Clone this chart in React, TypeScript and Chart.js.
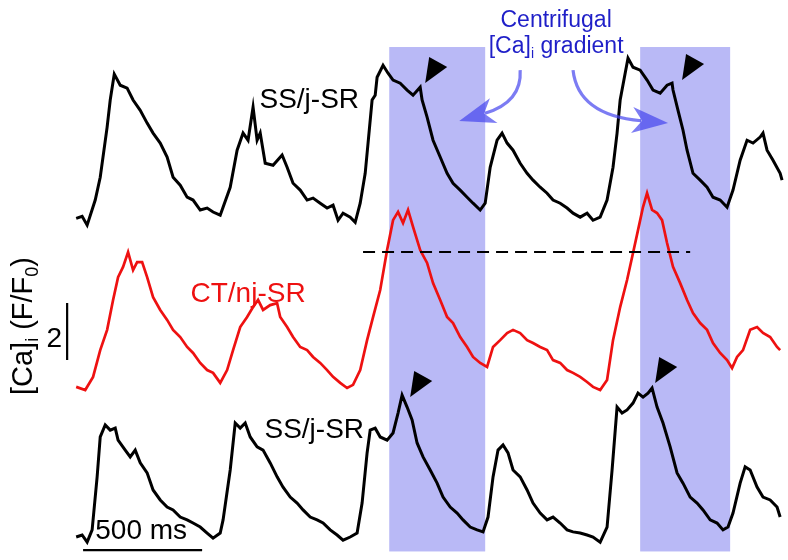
import React, { useEffect, useRef } from "react";
import { Chart, registerables } from "chart.js";

Chart.register(...registerables);

// ---- time (ms) and [Ca]i (F/F0) values ----
const TOP_T = [0,25,46,80,101,130,143,160,185,214,239,269,298,323,353,382,407,437,466,491,521,550,575,605,617,647,676,701,722,743,760,773,794,827,865,886,911,941,970,995,1025,1054,1079,1100,1121,1151,1172,1193,1214,1226,1243,1256,1264,1289,1310,1331,1361,1390,1415,1445,1453,1474,1499,1529,1558,1583,1613,1642,1667,1697,1718,1739,1768,1789,1810,1835,1865,1894,1919,1949,1978,2003,2033,2062,2087,2117,2146,2171,2201,2230,2255,2272,2285,2306,2318,2339,2369,2398,2423,2453,2482,2503,2507,2528,2549,2566,2591,2621,2650,2675,2705,2734,2759,2789,2818,2843,2873,2885,2902,2927,2957,2965];
const TOP_V = [0.89,0.96,0.65,1.53,2.33,4.09,5.04,5.95,5.56,5.46,5.04,4.68,4.23,3.88,3.53,3.04,2.33,2.05,1.63,1.53,1.18,1.25,1.11,1.0,1.28,1.98,3.28,3.88,3.63,4.79,3.63,3.88,2.82,2.75,3.11,2.68,2.12,1.88,1.53,1.6,1.42,1.25,1.35,0.82,1.07,0.93,0.75,1.42,2.47,3.53,5.04,5.21,5.84,6.26,5.98,5.74,5.63,5.39,5.21,5.49,5.04,4.44,3.63,3.04,2.47,2.12,1.88,1.63,1.42,1.18,1.42,2.68,3.63,3.88,3.53,3.28,2.82,2.47,2.23,1.98,1.77,1.53,1.42,1.25,1.07,0.93,1.07,0.82,0.93,1.53,2.68,3.88,5.04,5.98,6.51,6.19,6.09,5.74,5.39,5.28,5.56,5.63,5.39,4.68,3.98,3.28,2.47,2.23,1.98,1.63,1.53,1.28,1.88,2.93,3.63,3.53,3.74,3.88,3.28,2.93,2.47,2.23];

const RED_T = [0,38,71,101,130,155,176,197,218,239,256,277,298,323,353,382,407,437,466,491,521,550,575,605,634,659,689,718,743,764,785,815,844,857,886,911,941,970,995,1025,1054,1079,1109,1138,1163,1193,1222,1247,1277,1306,1331,1352,1373,1394,1415,1445,1474,1499,1529,1558,1583,1613,1642,1667,1697,1726,1751,1781,1810,1835,1865,1894,1919,1949,1978,2003,2033,2062,2087,2117,2146,2171,2201,2230,2255,2285,2314,2339,2360,2381,2398,2419,2440,2461,2482,2507,2537,2566,2591,2621,2650,2675,2705,2734,2755,2776,2801,2831,2860,2885,2915,2944,2957];
const RED_V = [1.04,0.93,1.39,2.33,3.04,4.09,4.89,5.25,5.77,5.14,5.42,5.42,4.89,4.19,3.74,3.39,3.04,2.79,2.44,2.23,1.88,1.63,1.53,1.18,1.63,2.33,3.14,3.49,3.84,4.09,3.74,3.91,3.98,3.49,3.14,2.79,2.44,2.33,2.09,1.88,1.63,1.39,1.18,1.0,1.11,1.63,2.68,3.49,4.44,5.84,6.89,7.18,6.79,7.25,6.65,5.84,5.39,4.68,4.09,3.49,3.28,2.79,2.44,2.09,1.88,1.74,2.44,2.68,2.93,3.04,2.93,2.68,2.58,2.44,2.33,1.98,1.88,1.63,1.53,1.39,1.21,1.04,0.93,1.28,2.68,3.84,4.79,5.74,6.54,7.35,7.84,7.25,7.14,6.89,6.09,5.25,4.68,4.09,3.63,3.28,3.04,2.58,2.23,1.98,1.7,2.09,2.33,3.04,3.14,2.93,2.79,2.44,2.33];

const BOT_T = [0,25,46,67,88,101,122,143,164,176,206,227,248,269,298,323,353,382,407,437,466,491,521,550,575,605,617,647,668,689,710,731,760,785,815,844,869,899,928,953,983,1012,1037,1067,1096,1121,1151,1180,1201,1222,1235,1256,1277,1306,1331,1352,1369,1390,1411,1432,1457,1487,1516,1541,1571,1600,1625,1655,1684,1709,1730,1751,1772,1793,1814,1835,1865,1894,1919,1949,1978,2003,2033,2062,2087,2117,2146,2171,2201,2230,2251,2272,2293,2314,2339,2360,2381,2402,2419,2440,2465,2495,2524,2549,2579,2608,2633,2663,2692,2717,2738,2759,2789,2810,2831,2860,2885,2915,2944,2957];
const BOT_V = [1.0,1.07,0.82,1.25,3.11,4.51,4.93,4.75,4.82,4.4,4.05,3.81,4.05,3.6,3.25,2.65,2.3,2.05,1.95,1.7,1.6,1.49,1.35,1.14,0.96,1.14,1.6,3.35,5.0,4.82,5.0,4.51,4.16,4.05,3.6,3.11,2.75,2.4,2.19,1.95,1.7,1.6,1.49,1.25,1.07,0.89,1.0,1.14,2.19,3.95,4.75,4.82,4.51,4.4,4.65,5.35,5.98,5.56,5.11,4.3,3.81,3.35,2.89,2.4,2.05,1.84,1.6,1.35,1.25,1.18,1.7,3.11,4.05,4.23,3.95,3.35,3.11,2.65,2.19,1.84,1.6,1.7,1.49,1.25,1.18,1.14,1.07,1.0,0.82,1.35,3.35,5.56,5.35,5.46,5.7,6.05,5.91,6.05,6.23,5.56,5.0,4.16,3.25,2.89,2.4,2.19,1.95,1.6,1.49,1.25,1.35,1.84,2.89,3.46,3.35,2.75,2.4,2.3,2.05,1.7];

// vertical offsets of the three stacked traces (F/F0 units of the shared axis)
const TOP_OFFSET = 12.1;
const RED_OFFSET = 6.035;
const BOT_OFFSET = 0.807;

// annotation values (ms, axis units)
const BOX_1 = [1315, 1718];
const BOX_2 = [2369, 2747];
const BOX_Y = [0.3, 18.0];
const DASH_T = [1205, 2579];
const DASH_LEVEL = 5.77; // F/F0 of the CT/nj-SR trace
const ARROWHEADS = [
  [1466, 16.74],
  [2545, 16.84],
  [1403, 5.72],
  [2432, 6.21],
];
const TIME_BAR = [29, 529, 0.35]; // 500 ms
const CA_BAR = [-38, 7.02, 9.02]; // 2 F/F0
const CURVES = [
  { s: [1865, 17.19], c: [1873, 16.07], e: [1609, 15.4] },
  { s: [2087, 17.19], c: [2108, 15.61], e: [2486, 15.33] },
];

const X_MIN = -320;
const X_MAX = 2990;
const Y_MIN = 0;
const Y_MAX = 19.65;

const FONT = "'Liberation Sans', Arial, sans-serif";

function shifted(ts: number[], vs: number[], off: number) {
  return ts.map((t, i) => ({ x: t, y: vs[i] - 1 + off }));
}

type Part = { t: string; sub?: boolean };

function richWidth(ctx: CanvasRenderingContext2D, parts: Part[], size: number, subSize: number) {
  let w = 0;
  for (const p of parts) {
    ctx.font = `${p.sub ? subSize : size}px ${FONT}`;
    w += ctx.measureText(p.t).width;
  }
  return w;
}

function drawRich(ctx: CanvasRenderingContext2D, parts: Part[], cx: number, y: number, size: number, color: string) {
  const subSize = Math.round(size * 0.62);
  const w = richWidth(ctx, parts, size, subSize);
  let x = cx - w / 2;
  ctx.fillStyle = color;
  ctx.textAlign = "left";
  ctx.textBaseline = "alphabetic";
  for (const p of parts) {
    ctx.font = `${p.sub ? subSize : size}px ${FONT}`;
    ctx.fillText(p.t, x, p.sub ? y + size * 0.22 : y);
    x += ctx.measureText(p.t).width;
  }
}

const overlay = {
  id: "overlay",
  beforeDatasetsDraw(chart: any) {
    const { ctx, scales } = chart;
    const X = (v: number) => scales.x.getPixelForValue(v);
    const Y = (v: number) => scales.y.getPixelForValue(v);
    ctx.save();
    ctx.fillStyle = "#b9b9f6";
    for (const b of [BOX_1, BOX_2]) {
      ctx.fillRect(X(b[0]), Y(BOX_Y[1]), X(b[1]) - X(b[0]), Y(BOX_Y[0]) - Y(BOX_Y[1]));
    }
    ctx.restore();
  },
  afterDatasetsDraw(chart: any) {
    const { ctx, scales } = chart;
    const X = (v: number) => scales.x.getPixelForValue(v);
    const Y = (v: number) => scales.y.getPixelForValue(v);
    ctx.save();

    // dashed reference line
    const dy = Y(RED_OFFSET + DASH_LEVEL - 1);
    ctx.strokeStyle = "#000";
    ctx.lineWidth = 2;
    ctx.setLineDash([12, 7]);
    ctx.beginPath();
    ctx.moveTo(X(DASH_T[0]), dy);
    ctx.lineTo(X(DASH_T[1]), dy);
    ctx.stroke();
    ctx.setLineDash([]);

    // arrowheads
    ctx.fillStyle = "#000";
    for (const a of ARROWHEADS) {
      const x = X(a[0]);
      const y = Y(a[1]);
      ctx.beginPath();
      ctx.moveTo(x, y);
      ctx.lineTo(x + 4, y - 26);
      ctx.lineTo(x + 22, y - 16);
      ctx.closePath();
      ctx.fill();
    }

    // scale bars
    ctx.lineWidth = 2.2;
    ctx.beginPath();
    ctx.moveTo(X(TIME_BAR[0]), Y(TIME_BAR[2]));
    ctx.lineTo(X(TIME_BAR[1]), Y(TIME_BAR[2]));
    ctx.moveTo(X(CA_BAR[0]), Y(CA_BAR[1]));
    ctx.lineTo(X(CA_BAR[0]), Y(CA_BAR[2]));
    ctx.stroke();

    // curved blue arrows
    ctx.globalAlpha = 0.7;
    ctx.strokeStyle = "#4545ee";
    ctx.fillStyle = "#4545ee";
    ctx.lineWidth = 3.2;
    for (const cv of CURVES) {
      const sx = X(cv.s[0]), sy = Y(cv.s[1]);
      const cx = X(cv.c[0]), cy = Y(cv.c[1]);
      const ex = X(cv.e[0]), ey = Y(cv.e[1]);
      const ang = Math.atan2(ey - cy, ex - cx);
      const L = 36;
      const bx = ex - Math.cos(ang) * (L - 9);
      const by = ey - Math.sin(ang) * (L - 9);
      ctx.beginPath();
      ctx.moveTo(sx, sy);
      ctx.quadraticCurveTo(cx, cy, bx, by);
      ctx.stroke();
      const px = -Math.sin(ang), pyv = Math.cos(ang);
      const rx = ex - Math.cos(ang) * L, ry = ey - Math.sin(ang) * L;
      ctx.beginPath();
      ctx.moveTo(ex, ey);
      ctx.lineTo(rx + px * 13, ry + pyv * 13);
      ctx.lineTo(ex - Math.cos(ang) * (L - 10), ey - Math.sin(ang) * (L - 10));
      ctx.lineTo(rx - px * 13, ry - pyv * 13);
      ctx.closePath();
      ctx.fill();
    }
    ctx.globalAlpha = 1;

    // labels
    ctx.textBaseline = "alphabetic";
    ctx.textAlign = "center";
    ctx.font = `28px ${FONT}`;
    ctx.fillStyle = "#000";
    ctx.fillText("SS/j-SR", X(979), Y(15.86));
    ctx.fillText("SS/j-SR", X(1000), Y(4.28));
    ctx.fillText("500 ms", X(273), Y(0.74));
    ctx.fillText("2", X(-92), Y(7.47));
    ctx.fillStyle = "#ee1111";
    ctx.fillText("CT/nj-SR", X(722), Y(9.05));

    const blue = "#1f1fc8";
    ctx.font = `23px ${FONT}`;
    ctx.fillStyle = blue;
    ctx.fillText("Centrifugal", X(2016), Y(18.72));
    drawRich(ctx, [{ t: "[Ca]" }, { t: "i", sub: true }, { t: " gradient" }], X(2016), Y(17.8), 23, blue);

    // rotated y label
    ctx.save();
    ctx.translate(X(-186), Y(8.21));
    ctx.rotate(-Math.PI / 2);
    drawRich(ctx, [{ t: "[Ca]" }, { t: "i", sub: true }, { t: " (F/F" }, { t: "0", sub: true }, { t: ")" }], 0, 0, 29, "#000");
    ctx.restore();

    ctx.restore();
  },
};

export default function App() {
  const ref = useRef<HTMLCanvasElement | null>(null);
  useEffect(() => {
    if (!ref.current) return;
    const chart = new Chart(ref.current, {
      type: "line",
      data: {
        datasets: [
          { data: shifted(TOP_T, TOP_V, TOP_OFFSET), borderColor: "#000", borderWidth: 3, pointRadius: 0, tension: 0 },
          { data: shifted(RED_T, RED_V, RED_OFFSET), borderColor: "#ee1111", borderWidth: 2.7, pointRadius: 0, tension: 0 },
          { data: shifted(BOT_T, BOT_V, BOT_OFFSET), borderColor: "#000", borderWidth: 3, pointRadius: 0, tension: 0 },
        ],
      },
      options: {
        animation: false,
        responsive: false,
        devicePixelRatio: 1,
        layout: { padding: 0 },
        scales: {
          x: { type: "linear", min: X_MIN, max: X_MAX, display: false },
          y: { type: "linear", min: Y_MIN, max: Y_MAX, display: false },
        },
        plugins: { legend: { display: false }, tooltip: { enabled: false } },
        events: [],
      },
      plugins: [overlay],
    });
    return () => chart.destroy();
  }, []);
  return (
    <div style={{ position: "absolute", left: 0, top: 0, width: 788, height: 560, background: "#fff" }}>
      <canvas ref={ref} width={788} height={560} style={{ display: "block" }} />
    </div>
  );
}
